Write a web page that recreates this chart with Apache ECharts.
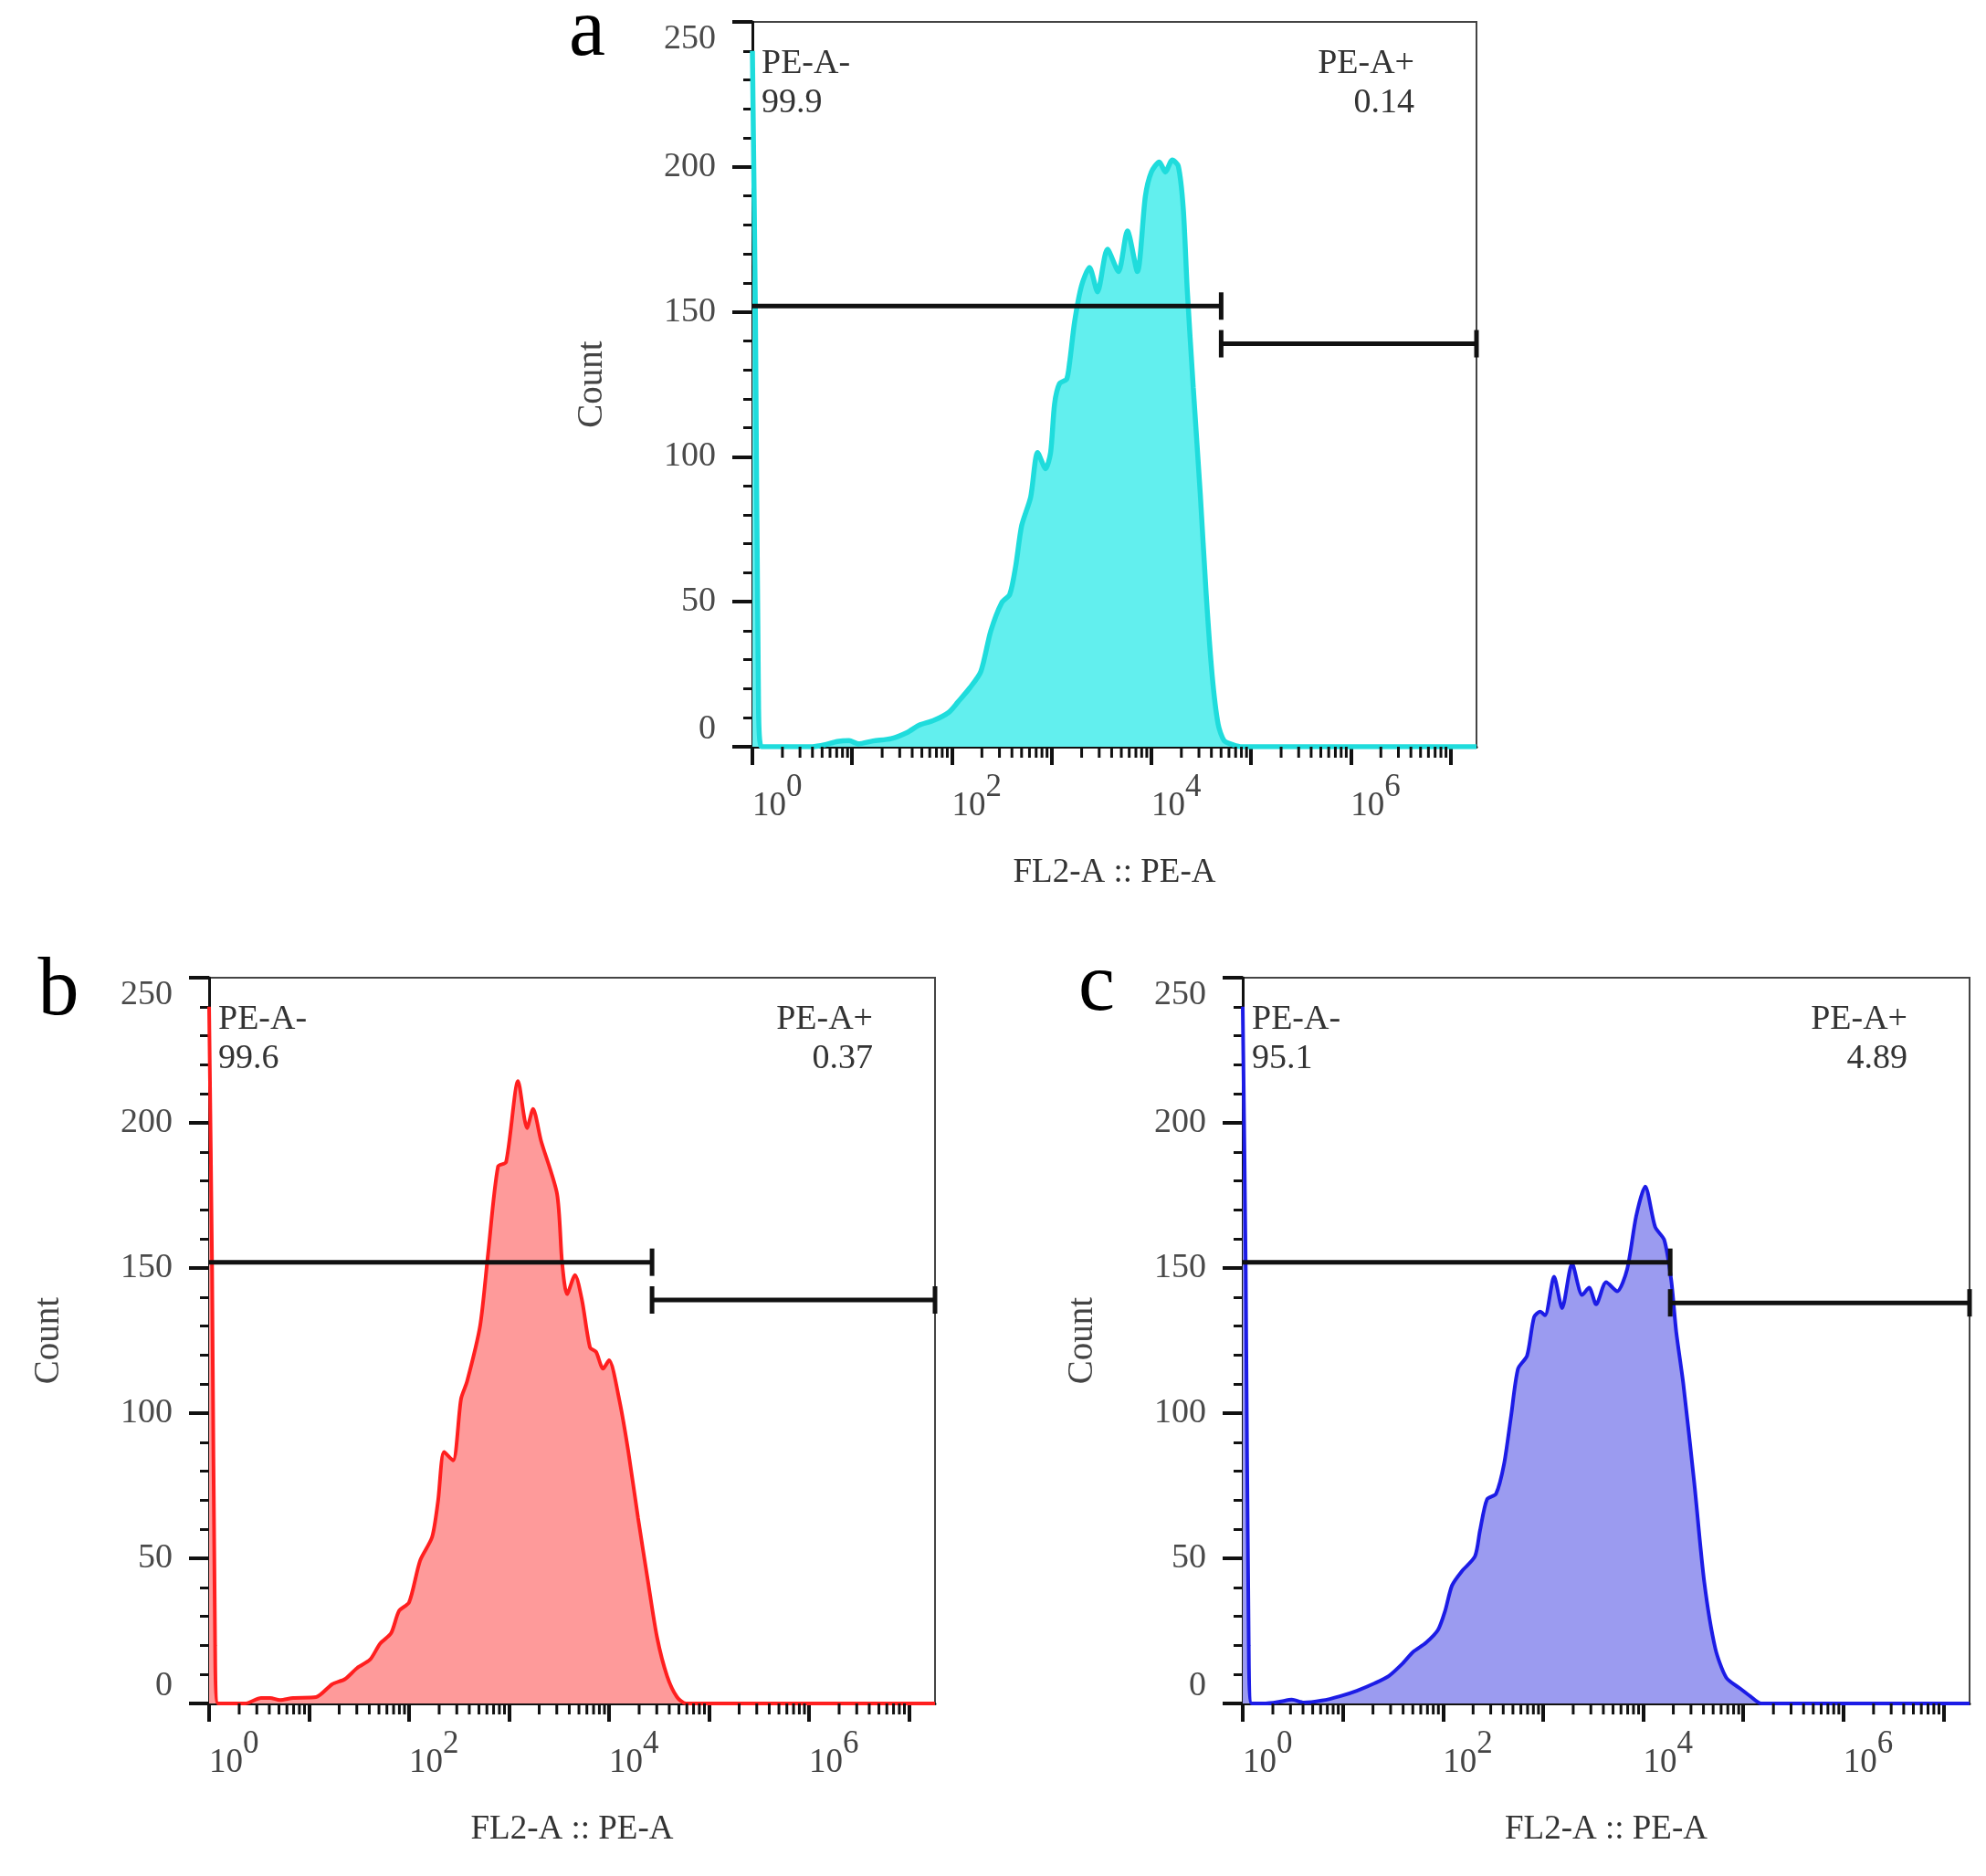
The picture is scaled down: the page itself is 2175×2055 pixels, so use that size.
<!DOCTYPE html>
<html>
<head>
<meta charset="utf-8">
<script src="https://cdn.jsdelivr.net/npm/echarts@6/dist/echarts.min.js"></script>
<style>
  html, body { margin: 0; padding: 0; background: #fff; }
  #chart { width: 2175px; height: 2055px; }
</style>
</head>
<body>
<div id="chart"></div>
<script>
// x values are log10(FL2-A :: PE-A), y values are event counts

// panel a (cyan)
var aLogX = [0, 0.03, 0.06, 0.09, 0.6, 0.73, 0.85, 0.97, 1.06, 1.21, 1.39, 1.55, 1.67, 1.82, 1.97,
    2.06, 2.18, 2.29, 2.39, 2.5, 2.58, 2.64, 2.7, 2.79, 2.86, 2.94, 2.99,
    3.03, 3.08, 3.15, 3.18, 3.23, 3.3, 3.38, 3.46, 3.56, 3.67, 3.76, 3.86, 3.94,
    4.0, 4.08, 4.14, 4.21, 4.27, 4.32, 4.36, 4.42, 4.49, 4.55, 4.61, 4.67, 4.73, 4.82, 4.91, 7.26];
var aCount = [240, 150, 20, 0, 0, 0.7, 1.8, 2.1, 1, 2, 2.8, 4.9, 7.4, 9.1, 11.9,
    15.4, 20.3, 25.9, 39.9, 49.7, 52.5, 62.3, 76.3, 86.1, 101.5, 95.9, 101.5,
    118.3, 125.3, 126.7, 132.4, 146.4, 159, 165.3, 156.9, 171.6, 163.9, 177.9, 163.9, 189.8,
    198.2, 201.7, 198.2, 202.4, 200.3, 185.6, 157.6, 124, 87.5, 52.5, 24.5, 7.7, 2.1, 0.7, 0, 0];

// panel b (red)
var bLogX = [0, 0.03, 0.06, 0.09, 0.36, 0.52, 0.61, 0.71, 0.84,
    1.07, 1.23, 1.36, 1.48, 1.61, 1.71, 1.82, 1.9,
    2.0, 2.11, 2.23, 2.29, 2.35, 2.44, 2.52, 2.58, 2.71, 2.79, 2.89, 2.97,
    3.09, 3.18, 3.24, 3.32, 3.48, 3.53, 3.58, 3.66, 3.73, 3.81, 3.87, 3.94,
    4.0, 4.1, 4.19, 4.29, 4.39, 4.48, 4.58, 4.68, 4.77, 7.26];
var bCount = [240, 150, 20, 0, 0, 1.9, 1.9, 1.2, 1.9,
    2.2, 6.6, 8.4, 12.2, 15.1, 20.6, 24.2, 31.9,
    34.8, 49.2, 57.3, 69.8, 86.6, 83.7, 105, 110.9, 130, 154.9, 185, 186.5,
    214.4, 198.2, 204.8, 193.8, 175.5, 152, 141, 147.6, 138.8, 122.6, 121.1, 115.3,
    118.2, 105, 87.4, 63.9, 41.9, 22.8, 9.5, 2.2, 0, 0];

// panel c (blue)
var cLogX = [0, 0.03, 0.06, 0.09, 0.23, 0.37, 0.49, 0.61, 0.79, 0.97,
    1.14, 1.32, 1.46, 1.6, 1.7, 1.83, 1.95,
    2.02, 2.09, 2.19, 2.32, 2.37, 2.44, 2.53, 2.61, 2.68, 2.75, 2.84, 2.91, 2.97,
    3.02, 3.11, 3.19, 3.29, 3.39, 3.46, 3.53, 3.63, 3.74, 3.84, 3.93,
    4.02, 4.12, 4.21, 4.28, 4.33, 4.4, 4.51, 4.61, 4.72, 4.83, 4.97,
    5.07, 5.18, 7.26];
var cCount = [240, 150, 20, 0, 0, 0.6, 1.3, 0.3, 1.0, 2.5,
    4.4, 7.0, 9.5, 13.9, 17.7, 20.9, 25.3,
    31.7, 40.6, 45.6, 50.7, 59.6, 70.3, 72.2, 82.4, 98.9, 115.3, 119.8, 133.1, 135,
    133.7, 147, 136.2, 151.5, 140.7, 143.2, 137.5, 145.1, 142, 149.6, 167.9,
    178.1, 164.1, 159.7, 145.8, 128, 110.3, 76, 41.8, 19, 8.9, 5.1,
    2.5, 0, 0];

// gates: [start logX, end logX, y level]
var gateNeg = [[0, 4.70, 152], [0, 4.43, 152], [0, 4.27, 152]];
var gatePos = [[4.70, 7.26, 139], [4.43, 7.26, 139], [4.27, 7.26, 138]];
var negPct = ['99.9', '99.6', '95.1'];
var posPct = ['0.14', '0.37', '4.89'];
var gateNames = ['PE-A-', 'PE-A+'];
var panelLetters = ['a', 'b', 'c'];
var yTicks = [0, 50, 100, 150, 200, 250];
var xMaxLog = 7.26;

var seriesX = [aLogX, bLogX, cLogX];
var seriesY = [aCount, bCount, cCount];

// layout
var panels = [
    { left: 824, top: 24, width: 793, height: 794, letterX: 643, letterY: 36 },
    { left: 229, top: 1071, width: 795, height: 795, letterX: 64, letterY: 1087 },
    { left: 1361, top: 1071, width: 796, height: 795, letterX: 1201, letterY: 1082 }
];
var colors = [
    { line: '#1fdcdc', fill: '#62efee', width: 5.5 },
    { line: '#ff1f1f', fill: '#fe9a9a', width: 4 },
    { line: '#1c1ce6', fill: '#9b9bf0', width: 4 }
];
var SERIF = '"Liberation Serif", "DejaVu Serif", serif';

// log-style minor tick positions (2..9 x 10^n)
var minorTicks = [];
for (var n = 0; n < 8; n++) {
    for (var k = 2; k <= 9; k++) {
        var v = n + Math.log10(k);
        if (v < xMaxLog) minorTicks.push([v, 0]);
    }
}

function zip(xs, ys) {
    return xs.map(function (x, i) { return [x, ys[i]]; });
}

var grids = [], xAxes = [], yAxes = [], series = [], graphics = [];

panels.forEach(function (p, i) {
    grids.push({
        left: p.left, top: p.top, width: p.width, height: p.height,
        containLabel: false, show: true,
        borderColor: '#444', borderWidth: 2, backgroundColor: 'transparent'
    });

    xAxes.push({
        gridIndex: i, type: 'value', min: 0, max: xMaxLog, interval: 1,
        name: 'FL2-A :: PE-A', nameLocation: 'middle', nameGap: 120,
        nameTextStyle: { fontFamily: SERIF, fontSize: 37, color: '#333' },
        axisLine: { show: true, onZero: false, lineStyle: { color: '#111', width: 3 } },
        axisTick: { show: true, length: 20, lineStyle: { color: '#111', width: 4 } },
        splitLine: { show: false },
        axisLabel: {
            margin: 27, align: 'left', showMaxLabel: false,
            formatter: function (v) {
                var r = Math.round(v);
                if (Math.abs(v - r) > 1e-6 || r % 2 !== 0) return '';
                return '{b|10}{s|' + r + '}';
            },
            rich: {
                b: { fontFamily: SERIF, fontSize: 37, color: '#444', verticalAlign: 'bottom' },
                s: { fontFamily: SERIF, fontSize: 35, color: '#444', verticalAlign: 'bottom', padding: [0, 0, 22, 0] }
            }
        }
    });

    yAxes.push({
        gridIndex: i, type: 'value', min: 0, max: 250, interval: 50,
        name: 'Count', nameLocation: 'middle', nameGap: 156, nameRotate: 90,
        nameTextStyle: { fontFamily: SERIF, fontSize: 39, color: '#444' },
        axisLine: { show: true, onZero: false, lineStyle: { color: '#111', width: 3 } },
        axisTick: { show: true, length: 22, lineStyle: { color: '#111', width: 4 } },
        minorTick: { show: true, splitNumber: 5, length: 10, lineStyle: { color: '#111', width: 3 } },
        splitLine: { show: false },
        axisLabel: {
            margin: 40, fontFamily: SERIF, fontSize: 38, color: '#4a4a4a',
            verticalAlignMaxLabel: 'top', verticalAlignMinLabel: 'bottom',
            customValues: yTicks
        }
    });

    // histogram
    series.push({
        type: 'line', xAxisIndex: i, yAxisIndex: i,
        data: zip(seriesX[i], seriesY[i]),
        showSymbol: false, smooth: 0.25, z: 2,
        lineStyle: { color: colors[i].line, width: colors[i].width },
        areaStyle: { color: colors[i].fill, opacity: 1 },
        silent: true
    });

    // minor log ticks below the x axis
    series.push({
        type: 'custom', xAxisIndex: i, yAxisIndex: i, clip: false, silent: true, z: 5,
        data: minorTicks,
        renderItem: function (params, api) {
            var pt = api.coord([api.value(0), 0]);
            return {
                type: 'line',
                shape: { x1: pt[0], y1: pt[1], x2: pt[0], y2: pt[1] + 12 },
                style: { stroke: '#111', lineWidth: 3 }
            };
        }
    });

    // gates with end caps
    series.push({
        type: 'custom', xAxisIndex: i, yAxisIndex: i, clip: false, silent: true, z: 6,
        data: [gateNeg[i].concat([0]), gatePos[i].concat([1])],
        renderItem: function (params, api) {
            var a = api.coord([api.value(0), api.value(2)]);
            var b = api.coord([api.value(1), api.value(2)]);
            var st = { stroke: '#111', lineWidth: 5 };
            var kids = [
                { type: 'line', shape: { x1: a[0], y1: a[1], x2: b[0], y2: b[1] }, style: st },
                { type: 'line', shape: { x1: b[0], y1: b[1] - 15, x2: b[0], y2: b[1] + 15 }, style: st }
            ];
            if (api.value(3) === 1) {
                kids.push({ type: 'line', shape: { x1: a[0], y1: a[1] - 15, x2: a[0], y2: a[1] + 15 }, style: st });
            }
            return { type: 'group', children: kids };
        }
    });

    // gate labels
    var txt = { fontFamily: SERIF, fontSize: 38, fill: '#333', verticalAlign: 'middle' };
    graphics.push({ type: 'text', x: p.left + 10, y: p.top + 46,
        style: Object.assign({ text: gateNames[0], align: 'left' }, txt) });
    graphics.push({ type: 'text', x: p.left + 10, y: p.top + 89,
        style: Object.assign({ text: negPct[i], align: 'left' }, txt) });
    graphics.push({ type: 'text', x: p.left + p.width - 68, y: p.top + 46,
        style: Object.assign({ text: gateNames[1], align: 'right' }, txt) });
    graphics.push({ type: 'text', x: p.left + p.width - 68, y: p.top + 89,
        style: Object.assign({ text: posPct[i], align: 'right' }, txt) });

    // panel letter
    graphics.push({ type: 'text', x: p.letterX, y: p.letterY,
        style: { text: panelLetters[i], fontFamily: SERIF, fontSize: 90, fill: '#000',
                 align: 'center', verticalAlign: 'middle' } });
});

var myChart = echarts.init(document.getElementById('chart'), null, { renderer: 'canvas' });

myChart.setOption({
    animation: false,
    backgroundColor: '#fff',
    grid: grids,
    xAxis: xAxes,
    yAxis: yAxes,
    series: series,
    graphic: graphics
});
</script>
</body>
</html>
